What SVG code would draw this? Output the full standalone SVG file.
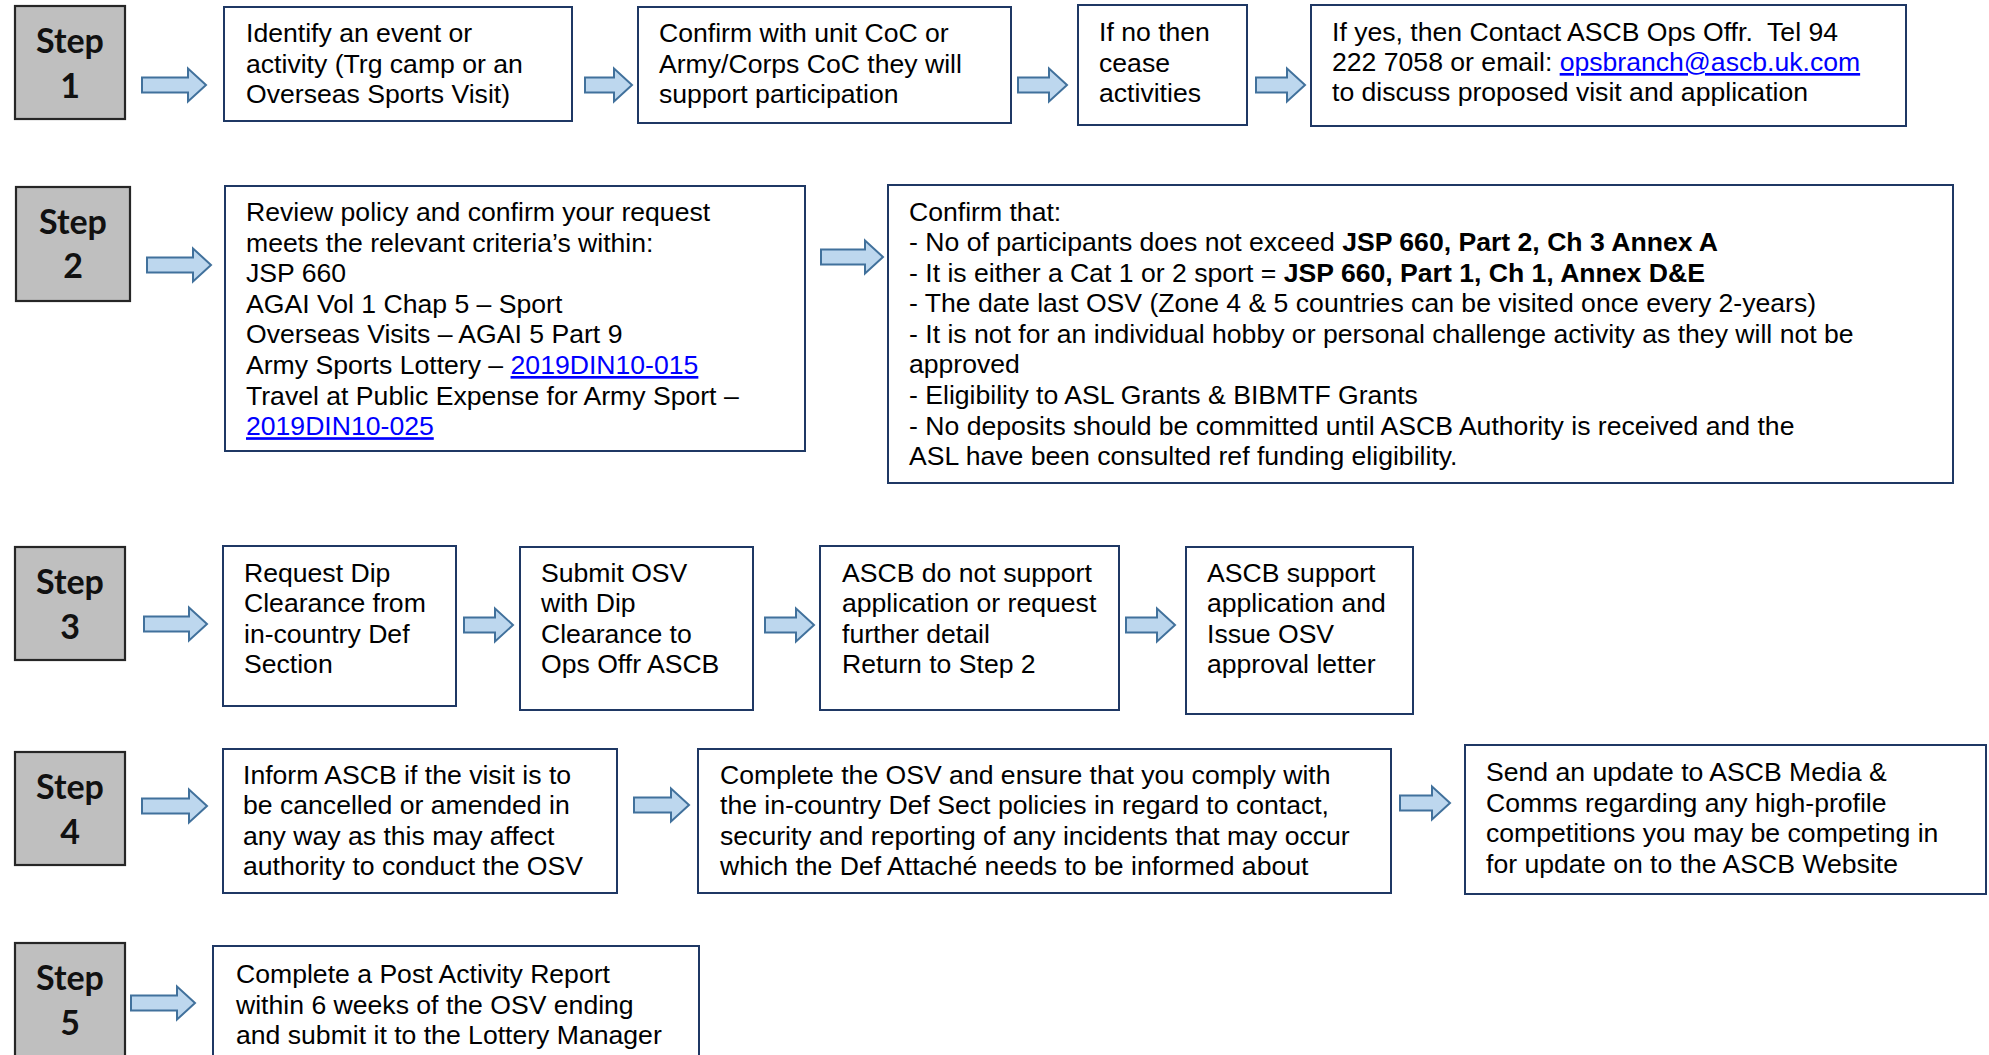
<svg xmlns="http://www.w3.org/2000/svg" width="1989" height="1055" viewBox="0 0 1989 1055">
<style>
.bg{fill:#ffffff}
.step{fill:#bfbfbf;stroke:#262626;stroke-width:2.2}
.box{fill:#ffffff;stroke:#1f3864;stroke-width:2}
.st{font-family:Lato,"Liberation Sans",sans-serif;font-weight:bold;font-size:34px;fill:#111;text-anchor:middle}
.t{font-family:"Liberation Sans",Arial,sans-serif;font-size:26.6px;fill:#000}
.b{font-weight:bold}
.lnk{fill:#0000ff;text-decoration:underline}
.arr{fill:#bdd7ee;stroke:#41719c;stroke-width:2;stroke-linejoin:miter}
</style>
<rect class="bg" x="0" y="0" width="1989" height="1055"/>

<g id="connectors">
<polygon class="arr" points="142,77.5 188,77.5 188,68.5 206,85 188,101.5 188,92.5 142,92.5"/>
<polygon class="arr" points="585,77.5 614,77.5 614,68.5 632,85 614,101.5 614,92.5 585,92.5"/>
<polygon class="arr" points="1018,77.5 1049,77.5 1049,68.5 1067,85 1049,101.5 1049,92.5 1018,92.5"/>
<polygon class="arr" points="1256,77.5 1287,77.5 1287,68.5 1305,85 1287,101.5 1287,92.5 1256,92.5"/>
<polygon class="arr" points="147,257.5 193,257.5 193,248.5 211,265 193,281.5 193,272.5 147,272.5"/>
<polygon class="arr" points="821,249.5 865,249.5 865,240.5 883,257 865,273.5 865,264.5 821,264.5"/>
<polygon class="arr" points="144,616.5 189,616.5 189,607.5 207,624 189,640.5 189,631.5 144,631.5"/>
<polygon class="arr" points="464,617.5 495,617.5 495,608.5 513,625 495,641.5 495,632.5 464,632.5"/>
<polygon class="arr" points="765,617.5 796,617.5 796,608.5 814,625 796,641.5 796,632.5 765,632.5"/>
<polygon class="arr" points="1126,617.5 1157,617.5 1157,608.5 1175,625 1157,641.5 1157,632.5 1126,632.5"/>
<polygon class="arr" points="142,798.5 189,798.5 189,789.5 207,806 189,822.5 189,813.5 142,813.5"/>
<polygon class="arr" points="634,797.5 671,797.5 671,788.5 689,805 671,821.5 671,812.5 634,812.5"/>
<polygon class="arr" points="1400,795.5 1432,795.5 1432,786.5 1450,803 1432,819.5 1432,810.5 1400,810.5"/>
<polygon class="arr" points="131,995.5 177,995.5 177,986.5 195,1003 177,1019.5 177,1010.5 131,1010.5"/>
</g>

<!-- Row 1 -->
<g id="step1">
<rect class="step" x="15" y="6" width="110" height="113"/>
<text class="st" x="70" y="53">Step</text>
<text class="st" x="70" y="98">1</text>
</g>
<g id="identify">
<rect class="box" x="224" y="7" width="348" height="114"/>
<text class="t" x="246" y="42">Identify an event or</text>
<text class="t" x="246" y="73">activity (Trg camp or an</text>
<text class="t" x="246" y="103">Overseas Sports Visit)</text>
</g>
<g id="confirm-coc">
<rect class="box" x="638" y="7" width="373" height="116"/>
<text class="t" x="659" y="42">Confirm with unit CoC or</text>
<text class="t" x="659" y="73">Army/Corps CoC they will</text>
<text class="t" x="659" y="103">support participation</text>
</g>
<g id="if-no">
<rect class="box" x="1078" y="5" width="169" height="120"/>
<text class="t" x="1099" y="41">If no then</text>
<text class="t" x="1099" y="72">cease</text>
<text class="t" x="1099" y="102">activities</text>
</g>
<g id="if-yes">
<rect class="box" x="1311" y="5" width="595" height="121"/>
<text class="t" x="1332" y="41" xml:space="preserve">If yes, then Contact ASCB Ops Offr.  Tel 94</text>
<text class="t" x="1332" y="71">222 7058 or email: <tspan class="lnk">opsbranch@ascb.uk.com</tspan></text>
<text class="t" x="1332" y="101">to discuss proposed visit and application</text>
</g>

<!-- Row 2 -->
<g id="step2">
<rect class="step" x="16" y="187" width="114" height="114"/>
<text class="st" x="73" y="234">Step</text>
<text class="st" x="73" y="278">2</text>
</g>
<g id="review">
<rect class="box" x="225" y="186" width="580" height="265"/>
<text class="t" x="246" y="221">Review policy and confirm your request</text>
<text class="t" x="246" y="251.6">meets the relevant criteria’s within:</text>
<text class="t" x="246" y="282.2">JSP 660</text>
<text class="t" x="246" y="312.8">AGAI Vol 1 Chap 5 – Sport</text>
<text class="t" x="246" y="343.4">Overseas Visits – AGAI 5 Part 9</text>
<text class="t" x="246" y="374">Army Sports Lottery – <tspan class="lnk">2019DIN10-015</tspan></text>
<text class="t" x="246" y="404.6">Travel at Public Expense for Army Sport –</text>
<text class="t" x="246" y="435.2"><tspan class="lnk">2019DIN10-025</tspan></text>
</g>
<g id="confirm-that">
<rect class="box" x="888" y="185" width="1065" height="298"/>
<text class="t" x="909" y="220.5">Confirm that:</text>
<text class="t" x="909" y="251">- No of participants does not exceed <tspan class="b">JSP 660, Part 2, Ch 3 Annex A</tspan></text>
<text class="t" x="909" y="281.6">- It is either a Cat 1 or 2 sport = <tspan class="b">JSP 660, Part 1, Ch 1, Annex D&amp;E</tspan></text>
<text class="t" x="909" y="312.2">- The date last OSV (Zone 4 &amp; 5 countries can be visited once every 2-years)</text>
<text class="t" x="909" y="342.8">- It is not for an individual hobby or personal challenge activity as they will not be</text>
<text class="t" x="909" y="373.4">approved</text>
<text class="t" x="909" y="404">- Eligibility to ASL Grants &amp; BIBMTF Grants</text>
<text class="t" x="909" y="434.6">- No deposits should be committed until ASCB Authority is received and the</text>
<text class="t" x="909" y="465.2">ASL have been consulted ref funding eligibility.</text>
</g>

<!-- Row 3 -->
<g id="step3">
<rect class="step" x="15" y="547" width="110" height="113"/>
<text class="st" x="70" y="594">Step</text>
<text class="st" x="70" y="639">3</text>
</g>
<g id="request-dip">
<rect class="box" x="223" y="546" width="233" height="160"/>
<text class="t" x="244" y="581.5">Request Dip</text>
<text class="t" x="244" y="612.1">Clearance from</text>
<text class="t" x="244" y="642.7">in-country Def</text>
<text class="t" x="244" y="673.3">Section</text>
</g>
<g id="submit-osv">
<rect class="box" x="520" y="547" width="233" height="163"/>
<text class="t" x="541" y="581.5">Submit OSV</text>
<text class="t" x="541" y="612.1">with Dip</text>
<text class="t" x="541" y="642.7">Clearance to</text>
<text class="t" x="541" y="673.3">Ops Offr ASCB</text>
</g>
<g id="not-support">
<rect class="box" x="820" y="546" width="299" height="164"/>
<text class="t" x="842" y="581.5">ASCB do not support</text>
<text class="t" x="842" y="612.1">application or request</text>
<text class="t" x="842" y="642.7">further detail</text>
<text class="t" x="842" y="673.3">Return to Step 2</text>
</g>
<g id="support">
<rect class="box" x="1186" y="547" width="227" height="167"/>
<text class="t" x="1207" y="581.5">ASCB support</text>
<text class="t" x="1207" y="612.1">application and</text>
<text class="t" x="1207" y="642.7">Issue OSV</text>
<text class="t" x="1207" y="673.3">approval letter</text>
</g>

<!-- Row 4 -->
<g id="step4">
<rect class="step" x="15" y="752" width="110" height="113"/>
<text class="st" x="70" y="799">Step</text>
<text class="st" x="70" y="844">4</text>
</g>
<g id="inform">
<rect class="box" x="223" y="749" width="394" height="144"/>
<text class="t" x="243" y="783.5">Inform ASCB if the visit is to</text>
<text class="t" x="243" y="814.1">be cancelled or amended in</text>
<text class="t" x="243" y="844.7">any way as this may affect</text>
<text class="t" x="243" y="875.3">authority to conduct the OSV</text>
</g>
<g id="complete-osv">
<rect class="box" x="698" y="749" width="693" height="144"/>
<text class="t" x="720" y="783.5">Complete the OSV and ensure that you comply with</text>
<text class="t" x="720" y="814.1">the in-country Def Sect policies in regard to contact,</text>
<text class="t" x="720" y="844.7">security and reporting of any incidents that may occur</text>
<text class="t" x="720" y="875.3">which the Def Attaché needs to be informed about</text>
</g>
<g id="send-update">
<rect class="box" x="1465" y="745" width="521" height="149"/>
<text class="t" x="1486" y="781">Send an update to ASCB Media &amp;</text>
<text class="t" x="1486" y="811.6">Comms regarding any high-profile</text>
<text class="t" x="1486" y="842.2">competitions you may be competing in</text>
<text class="t" x="1486" y="872.8">for update on to the ASCB Website</text>
</g>

<!-- Row 5 -->
<g id="step5">
<rect class="step" x="15" y="943" width="110" height="130"/>
<text class="st" x="70" y="990">Step</text>
<text class="st" x="70" y="1035">5</text>
</g>
<g id="post-activity">
<rect class="box" x="213" y="946" width="486" height="130"/>
<text class="t" x="236" y="983">Complete a Post Activity Report</text>
<text class="t" x="236" y="1013.6">within 6 weeks of the OSV ending</text>
<text class="t" x="236" y="1044.2">and submit it to the Lottery Manager</text>
</g>
</svg>
